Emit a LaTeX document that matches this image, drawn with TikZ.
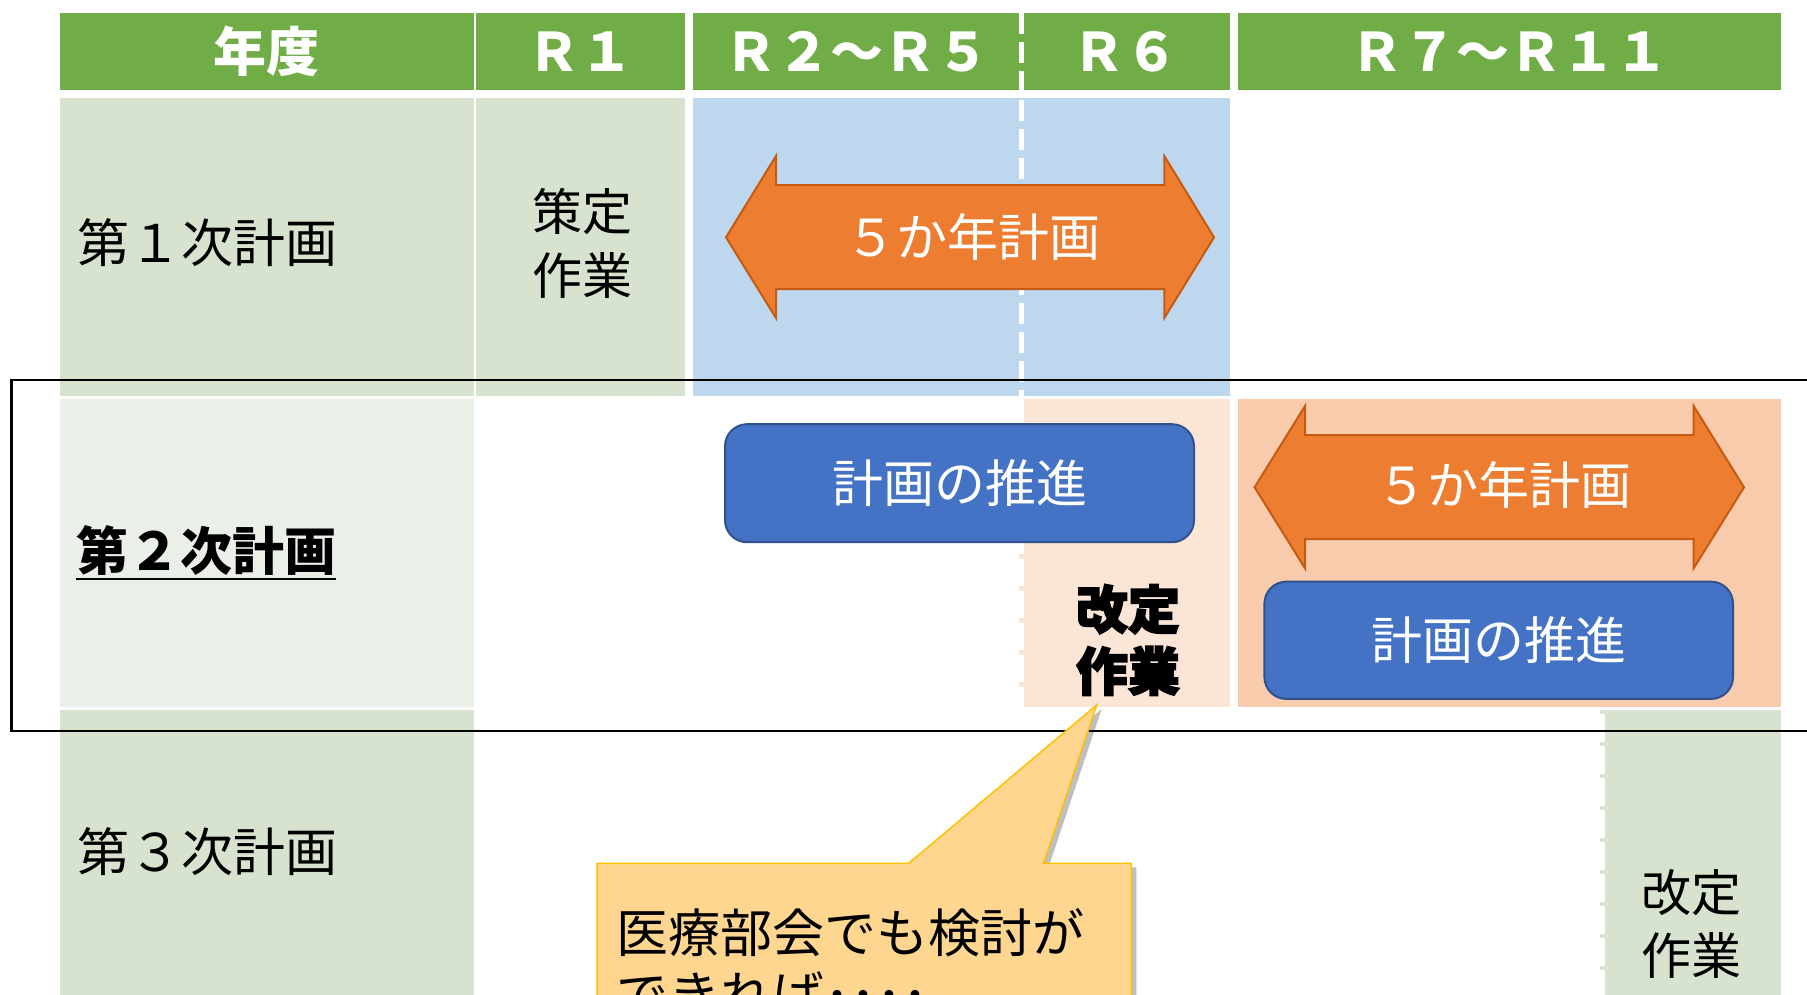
\documentclass[tikz,border=0pt]{standalone}
\usepackage{fontspec}
\setmainfont{Noto Sans CJK JP}
\newfontfamily\jpheavy{Noto Sans CJK JP}[FakeBold=3]
\definecolor{hdrgreen}{HTML}{70AD47}
\definecolor{lgreen}{HTML}{D7E3CE}
\definecolor{vlgreen}{HTML}{EAEFE7}
\definecolor{lblue}{HTML}{BDD7EE}
\definecolor{orangeA}{HTML}{ED7D31}
\definecolor{orangeB}{HTML}{C55A11}
\definecolor{blueA}{HTML}{4472C4}
\definecolor{blueB}{HTML}{2F528F}
\definecolor{peachL}{HTML}{FBE5D6}
\definecolor{peachD}{HTML}{F8CBAD}
\definecolor{goldF}{HTML}{FED690}
\definecolor{goldB}{HTML}{FFC000}
\begin{document}
\begin{tikzpicture}[x=1pt,y=-1pt,
  hdr/.style={fill=hdrgreen, inner sep=0pt, text=white, font=\fontsize{53}{60}\selectfont\bfseries},
  lbl/.style={inner sep=0pt, text=black, font=\fontsize{52}{63}\selectfont, align=center},
  wlbl/.style={inner sep=0pt, text=white, font=\fontsize{51}{60}\selectfont},
  pushbox/.style={fill=blueA, draw=blueB, line width=2pt, rounded corners=22pt, inner sep=0pt, text=white, font=\fontsize{51}{60}\selectfont},
  bigarrow/.style={fill=orangeA, draw=orangeB, line width=2pt, line join=miter},
  wdash/.style={draw=white, line width=5pt},
]
\useasboundingbox (0,0) rectangle (1807,994);
\clip (0,0) rectangle (1807,994);
\fill[white] (0,0) rectangle (1807,994);

% header
\node[hdr, minimum width=413.2pt, minimum height=77.3pt] (h0) at (266.9,51.35) {年度};
\node[hdr, minimum width=209pt, minimum height=77.3pt] (h1) at (580.3,51.35) {Ｒ１};
\node[hdr, minimum width=328.7pt, minimum height=77.3pt] (h2) at (857.15,51.35) {Ｒ２～Ｒ５};
\node[hdr, minimum width=208.2pt, minimum height=77.3pt] (h3) at (1125.6,51.35) {Ｒ６};
\node[hdr, minimum width=543.2pt, minimum height=77.3pt] (h4) at (1509.4,51.35) {Ｒ７～Ｒ１１};

% row cells
\fill[lgreen] (60.3,98.3) rectangle (473.5,396);
\fill[lgreen] (475.8,98.3) rectangle (684.8,396);
\fill[lblue] (692.8,98.3) rectangle (1229.7,396);
\fill[vlgreen] (60.3,399) rectangle (473.5,706.7);
\fill[peachL] (1019,399) rectangle (1229.7,706.7);
\fill[peachD] (1237.8,399) rectangle (1781,706.7);
\fill[lgreen] (60.3,710) rectangle (473.5,1010);
\fill[lgreen] (1600,710) rectangle (1781,1010);

% white dashed dividers
\draw[wdash, dash pattern=on 21pt off 8pt] (1021.5,12.7) -- (1021.5,396);
\draw[wdash, dash pattern=on 27pt off 5pt] (1021.5,399) -- (1021.5,706.7);
\draw[wdash, dash pattern=on 28pt off 4pt] (1602.5,714) -- (1602.5,1010);

% frame around second plan
\draw[line width=2.5pt] (11.5,380) rectangle (1850,731);

% row labels
\node[lbl, anchor=west] (t1) at (77,243) {第１次計画};
\node[lbl, anchor=west, font=\fontsize{52}{63}\selectfont\bfseries] (t2) at (76,550) {第２次計画};
\draw[line width=2.3pt] ([yshift=-4pt]t2.south west) -- ([yshift=-4pt]t2.south east);
\node[lbl, anchor=west] (t3) at (77,852) {第３次計画};

\node[lbl, font=\fontsize{50}{64}\selectfont] (s1) at (582,243) {策定\\作業};

% first plan arrow
\draw[bigarrow] (726,237.3) -- (776,156) -- (776,185) -- (1164.3,185) -- (1164.3,156) -- (1214,237.3) -- (1164.3,318) -- (1164.3,289) -- (776,289) -- (776,318) -- cycle;
\node[wlbl] (a1) at (973,237) {５か年計画};

% second plan
\node[pushbox, minimum width=469pt, minimum height=118pt] (p1) at (959.5,483.2) {計画の推進};
\node[lbl, font=\fontsize{52}{62}\selectfont\jpheavy\bfseries] (k1) at (1128,640) {改定\\作業};
\draw[bigarrow] (1254.6,487.3) -- (1305,406) -- (1305,435) -- (1693.6,435) -- (1693.6,406) -- (1744,487.3) -- (1693.6,568.3) -- (1693.6,539) -- (1305,539) -- (1305,568.3) -- cycle;
\node[wlbl] (a2) at (1504,485) {５か年計画};
\node[pushbox, minimum width=468.6pt, minimum height=117.3pt] (p2) at (1498.7,640.3) {計画の推進};

% third plan
\node[lbl, font=\fontsize{50}{63}\selectfont] (k2) at (1691,924) {改定\\作業};

% callout
\coordinate (ctip) at (1096.7,705);
\begin{scope}[shift={(5,4)}]
\fill[black, opacity=0.25] (597,863.3) -- (908.7,863.3) -- (1096.7,705) -- (1043.5,863.3) -- (1131.4,863.3) -- (1131.4,1010) -- (597,1010) -- cycle;
\end{scope}
\filldraw[fill=goldF, draw=goldB, line width=1.5pt] (597,863.3) -- (908.7,863.3) -- (ctip) -- (1043.5,863.3) -- (1131.4,863.3) -- (1131.4,1010) -- (597,1010) -- cycle;
\node[lbl, anchor=west, align=left, font=\fontsize{52}{62}\selectfont] (c1) at (616,963) {医療部会でも検討が\\できれば････};
\end{tikzpicture}
\end{document}
